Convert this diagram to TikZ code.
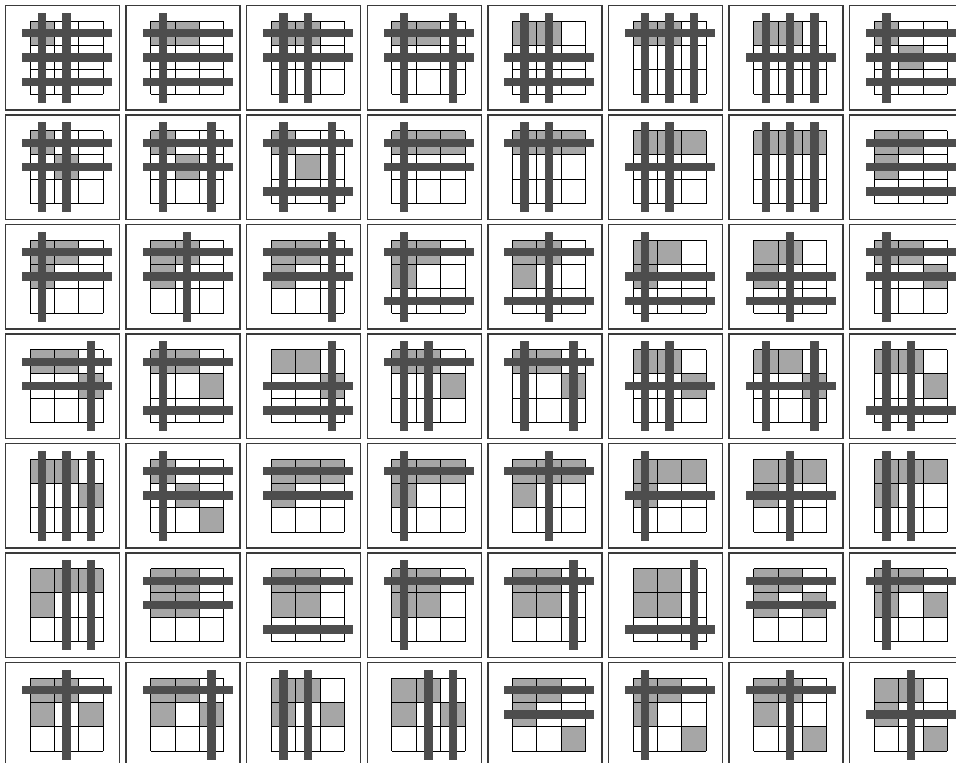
\documentclass[tikz,border=0pt]{standalone}
\usepackage{tikz}

\definecolor{cellgray}{HTML}{A6A6A6}
\definecolor{bargray}{HTML}{4D4D4D}
\definecolor{framegray}{HTML}{3A3A3A}

\tikzset{
  frame/.style={draw=framegray, line width=1.5pt},
  cellfill/.style={fill=cellgray},
  gridline/.style={draw=black, line width=0.9pt},
  bar/.style={fill=bargray}
}

% #1 column, #2 row, #3 gray cells (row/col), #4 vertical bars, #5 horizontal bars
\newcommand{\panel}[5]{%
  \begin{scope}[shift={({5.5+120.6*#1},{5.5+109.5*#2})}]
    \draw[frame] (0,0) rectangle (114,104.3);
    \foreach \r/\c in {#3}
      \fill[cellfill] ({24.5+24.4*\c},{15.5+24.4*\r}) rectangle ++(24.4,24.4);
    \foreach \i in {0,...,3} {
      \draw[gridline] ({24.5+24.4*\i},15.5) -- ++(0,73.2);
      \draw[gridline] (24.5,{15.5+24.4*\i}) -- ++(73.2,0);
    }
    \foreach \c in {#4}
      \fill[bar] ({32.55+24.4*\c},7.2) rectangle ++(8.3,90);
    \foreach \r in {#5}
      \fill[bar] (16.5,{23.55+24.4*\r}) rectangle ++(90,8.3);
  \end{scope}}

\begin{document}
\begin{tikzpicture}[x=1pt,y=-1pt]
    \useasboundingbox (0,0) rectangle (956,763);

    % Row 1
    \panel{0}{0}{0/0}{0,1}{0,1,2}
    \panel{1}{0}{0/0,0/1}{0}{0,1,2}
    \panel{2}{0}{0/0,0/1}{0,1}{0,1}
    \panel{3}{0}{0/0,0/1}{0,2}{0,1}
    \panel{4}{0}{0/0,0/1}{0,1}{1,2}
    \panel{5}{0}{0/0,0/1}{0,1,2}{0}
    \panel{6}{0}{0/0,0/1}{0,1,2}{1}
    \panel{7}{0}{0/0,1/1}{0}{0,1,2}

    % Row 2
    \panel{0}{1}{0/0,1/1}{0,1}{0,1}
    \panel{1}{1}{0/0,1/1}{0,2}{0,1}
    \panel{2}{1}{0/0,1/1}{0,2}{0,2}
    \panel{3}{1}{0/0,0/1,0/2}{0}{0,1}
    \panel{4}{1}{0/0,0/1,0/2}{0,1}{0}
    \panel{5}{1}{0/0,0/1,0/2}{0,1}{1}
    \panel{6}{1}{0/0,0/1,0/2}{0,1,2}{}
    \panel{7}{1}{0/0,0/1,1/0}{}{0,1,2}

    % Row 3
    \panel{0}{2}{0/0,0/1,1/0}{0}{0,1}
    \panel{1}{2}{0/0,0/1,1/0}{1}{0,1}
    \panel{2}{2}{0/0,0/1,1/0}{2}{0,1}
    \panel{3}{2}{0/0,0/1,1/0}{0}{0,2}
    \panel{4}{2}{0/0,0/1,1/0}{1}{0,2}
    \panel{5}{2}{0/0,0/1,1/0}{0}{1,2}
    \panel{6}{2}{0/0,0/1,1/0}{1}{1,2}
    \panel{7}{2}{0/0,0/1,1/2}{0}{0,1}

    % Row 4
    \panel{0}{3}{0/0,0/1,1/2}{2}{0,1}
    \panel{1}{3}{0/0,0/1,1/2}{0}{0,2}
    \panel{2}{3}{0/0,0/1,1/2}{2}{1,2}
    \panel{3}{3}{0/0,0/1,1/2}{0,1}{0}
    \panel{4}{3}{0/0,0/1,1/2}{0,2}{0}
    \panel{5}{3}{0/0,0/1,1/2}{0,1}{1}
    \panel{6}{3}{0/0,0/1,1/2}{0,2}{1}
    \panel{7}{3}{0/0,0/1,1/2}{0,1}{2}

    % Row 5
    \panel{0}{4}{0/0,0/1,1/2}{0,1,2}{}
    \panel{1}{4}{0/0,1/1,2/2}{0}{0,1}
    \panel{2}{4}{0/0,0/1,0/2,1/0}{}{0,1}
    \panel{3}{4}{0/0,0/1,0/2,1/0}{0}{0}
    \panel{4}{4}{0/0,0/1,0/2,1/0}{1}{0}
    \panel{5}{4}{0/0,0/1,0/2,1/0}{0}{1}
    \panel{6}{4}{0/0,0/1,0/2,1/0}{1}{1}
    \panel{7}{4}{0/0,0/1,0/2,1/0}{0,1}{}

    % Row 6
    \panel{0}{5}{0/0,0/1,0/2,1/0}{1,2}{}
    \panel{1}{5}{0/0,0/1,1/0,1/1}{}{0,1}
    \panel{2}{5}{0/0,0/1,1/0,1/1}{}{0,2}
    \panel{3}{5}{0/0,0/1,1/0,1/1}{0}{0}
    \panel{4}{5}{0/0,0/1,1/0,1/1}{2}{0}
    \panel{5}{5}{0/0,0/1,1/0,1/1}{2}{2}
    \panel{6}{5}{0/0,0/1,1/0,1/2}{}{0,1}
    \panel{7}{5}{0/0,0/1,1/0,1/2}{0}{0}

    % Row 7
    \panel{0}{6}{0/0,0/1,1/0,1/2}{1}{0}
    \panel{1}{6}{0/0,0/1,1/0,1/2}{2}{0}
    \panel{2}{6}{0/0,0/1,1/0,1/2}{0,1}{}
    \panel{3}{6}{0/0,0/1,1/0,1/2}{1,2}{}
    \panel{4}{6}{0/0,0/1,1/0,2/2}{}{0,1}
    \panel{5}{6}{0/0,0/1,1/0,2/2}{0}{0}
    \panel{6}{6}{0/0,0/1,1/0,2/2}{1}{0}
    \panel{7}{6}{0/0,0/1,1/0,2/2}{1}{1}
\end{tikzpicture}
\end{document}
